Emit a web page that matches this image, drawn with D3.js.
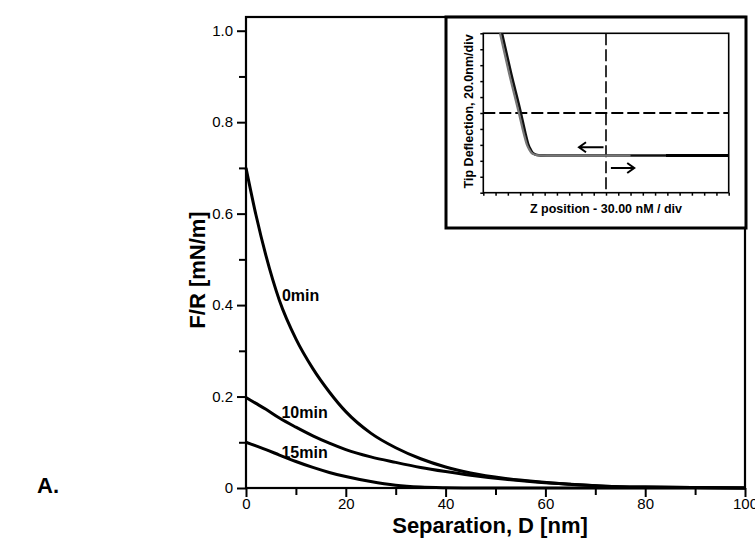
<html lang="en">
<head>
  <script src="https://d3js.org/d3.v7.min.js"></script>
  <style>
    body { margin: 0; background: #fff; }
    text { font-family: "Liberation Sans", Arial, sans-serif; fill: #000; }
    .tick text { font-size: 15px; }
    .curve { fill: none; stroke: #000; stroke-width: 3px; }
    .title { font-weight: bold; font-size: 22px; }
    .lbl { font-weight: bold; font-size: 16px; }
    .inset-title { font-weight: bold; font-size: 12.5px; }
  </style>
</head>
<body>
  <svg width="755" height="548" id="svg-container"></svg>
  <script>
    // ---- DATA ----
    // main panel: force / radius vs separation, three incubation times
    const sepD = [0, 2, 4, 6.7, 10, 13.4, 16.7, 20, 25, 30, 35, 40, 45, 52, 58, 65, 72, 80, 90, 100];
    const fr0min  = [0.70, 0.597, 0.508, 0.41, 0.326, 0.261, 0.210, 0.167, 0.120, 0.088, 0.064, 0.046, 0.033, 0.021, 0.014, 0.008, 0.004, 0.002, 0.001, 0];
    const fr10min = [0.198, 0.185, 0.172, 0.153, 0.133, 0.114, 0.098, 0.084, 0.068, 0.056, 0.045, 0.036, 0.028, 0.019, 0.013, 0.008, 0.004, 0.002, 0.001, 0];
    const fr15min = [0.100, 0.092, 0.084, 0.072, 0.058, 0.045, 0.034, 0.025, 0.014, 0.006, 0.002, 0.0005, 0, 0, 0, 0, 0, 0, 0, 0];
    const seriesNames = ["0min", "10min", "15min"];
    // label anchor (separation, F/R) for each series name
    const labelD = [7.2, 7.1, 7.1];
    const labelF = [0.409, 0.153, 0.066];

    const xTicks = [0, 20, 40, 60, 80, 100];
    const xMinor = [10, 30, 50, 70, 90];
    const yTicks = [0, 0.2, 0.4, 0.6, 0.8, 1.0];
    const yMinor = [0.1, 0.3, 0.5, 0.7, 0.9];
    const yTickLabels = ["0", "0.2", "0.4", "0.6", "0.8", "1.0"];

    // inset: tip deflection (divisions) vs z position (divisions)
    const insetZ        = [1.36, 2.1, 2.9, 3.3, 3.56, 3.75, 3.9, 4.1, 4.35, 4.7, 5.2, 8, 12, 16, 20];
    const insetApproach = [10, 7.5, 5.0, 3.7, 3.0, 2.7, 2.52, 2.42, 2.36, 2.34, 2.33, 2.33, 2.33, 2.33, 2.33];
    const insetZRet     = [1.52, 2.26, 3.06, 3.44, 3.68, 3.86, 4.0, 4.18, 4.4, 4.72, 5.2, 8, 12, 16, 20];
    const insetRetract  = [10, 7.5, 5.0, 3.7, 3.0, 2.7, 2.52, 2.42, 2.36, 2.34, 2.33, 2.33, 2.33, 2.33, 2.33];
    const insetGrayEnd = 14.9;

    let svg = d3.select("svg#svg-container");

    // main plot frame
    let plot = { left: 246, right: 745, top: 17, bottom: 488 };
    const x = d3.scaleLinear().domain([0, 100]).range([plot.left, plot.right]);
    const y = d3.scaleLinear().domain([0, 1.03]).range([plot.bottom, plot.top]);

    // axes
    svg.append("g")
      .attr("transform", "translate(0," + plot.bottom + ")")
      .call(d3.axisBottom(x).tickValues(xMinor).tickSize(7).tickFormat("").tickSizeOuter(0))
      .call(g => g.select(".domain").remove());
    svg.append("g")
      .attr("transform", "translate(0," + plot.bottom + ")")
      .call(d3.axisBottom(x).tickValues(xTicks).tickSize(9).tickPadding(1).tickSizeOuter(0))
      .call(g => g.select(".domain").remove());
    svg.append("g")
      .attr("transform", "translate(" + plot.left + ",0)")
      .call(d3.axisLeft(y).tickValues(yMinor).tickSize(7).tickFormat("").tickSizeOuter(0))
      .call(g => g.select(".domain").remove());
    svg.append("g")
      .attr("transform", "translate(" + plot.left + ",0)")
      .call(d3.axisLeft(y).tickValues(yTicks).tickSize(9).tickPadding(4).tickSizeOuter(0)
        .tickFormat((d, i) => yTickLabels[i]))
      .call(g => g.select(".domain").remove());
    svg.selectAll(".tick line").attr("stroke", "#000").attr("stroke-width", 2);

    // frame
    svg.append("rect")
      .attr("x", plot.left).attr("y", plot.top)
      .attr("width", plot.right - plot.left).attr("height", plot.bottom - plot.top)
      .attr("fill", "none").attr("stroke", "#000").attr("stroke-width", 2.2);

    // curves
    const line = d3.line()
      .x(d => x(d[0])).y(d => y(d[1]))
      .curve(d3.curveMonotoneX);
    [fr0min, fr10min, fr15min].forEach((vals, i) => {
      svg.append("path")
        .datum(sepD.map((d, j) => [d, vals[j]]))
        .attr("class", "curve")
        .attr("d", line);
      svg.append("text")
        .attr("class", "lbl")
        .attr("x", x(labelD[i])).attr("y", y(labelF[i]))
        .text(seriesNames[i]);
    });

    // axis titles
    svg.append("text").attr("class", "title")
      .attr("x", 490).attr("y", 533).attr("text-anchor", "middle")
      .text("Separation, D [nm]");
    svg.append("text").attr("class", "title")
      .attr("transform", "translate(205,270) rotate(-90)")
      .attr("text-anchor", "middle")
      .text("F/R [mN/m]");
    svg.append("text").attr("class", "title")
      .attr("x", 37).attr("y", 493)
      .text("A.");

    // ---- inset ----
    const inset = svg.append("g");
    inset.append("rect")
      .attr("x", 446).attr("y", 17).attr("width", 300).attr("height", 211)
      .attr("fill", "#fff").attr("stroke", "#000").attr("stroke-width", 3);
    let ip = { left: 483.3, right: 728.7, top: 33.3, bottom: 192.7 };
    const ix = d3.scaleLinear().domain([0, 20]).range([ip.left, ip.right]);
    const iy = d3.scaleLinear().domain([0, 10]).range([ip.bottom, ip.top]);

    inset.append("g")
      .attr("transform", "translate(0," + ip.bottom + ")")
      .call(d3.axisBottom(ix).ticks(20).tickSize(3).tickFormat("").tickSizeOuter(0))
      .call(g => g.select(".domain").remove());
    inset.append("g")
      .attr("transform", "translate(" + ip.left + ",0)")
      .call(d3.axisLeft(iy).ticks(10).tickSize(3).tickFormat("").tickSizeOuter(0))
      .call(g => g.select(".domain").remove());
    inset.selectAll(".tick line").attr("stroke", "#000").attr("stroke-width", 1.5);

    inset.append("rect")
      .attr("x", ip.left).attr("y", ip.top)
      .attr("width", ip.right - ip.left).attr("height", ip.bottom - ip.top)
      .attr("fill", "none").attr("stroke", "#000").attr("stroke-width", 1.6);

    // dashed cross hairs
    inset.append("line")
      .attr("x1", ip.left).attr("x2", ip.right).attr("y1", iy(5)).attr("y2", iy(5))
      .attr("stroke", "#000").attr("stroke-width", 2).attr("stroke-dasharray", "12,4");
    inset.append("line")
      .attr("x1", ix(10)).attr("x2", ix(10)).attr("y1", ip.top).attr("y2", ip.bottom)
      .attr("stroke", "#000").attr("stroke-width", 1.6).attr("stroke-dasharray", "12,4");

    const iline = d3.line().x(d => ix(d[0])).y(d => iy(d[1])).curve(d3.curveMonotoneX);
    inset.append("path")
      .datum(insetZRet.map((d, j) => [d, insetRetract[j]]))
      .attr("fill", "none").attr("stroke", "#111").attr("stroke-width", 2.6)
      .attr("d", iline);
    inset.append("path")
      .datum(insetZ.map((d, j) => [d, insetApproach[j]]).filter(d => d[0] <= insetGrayEnd))
      .attr("fill", "none").attr("stroke", "#777").attr("stroke-width", 2.2)
      .attr("d", iline);
    inset.append("line")
      .attr("x1", ix(insetGrayEnd - 0.01)).attr("x2", ix(20)).attr("y1", iy(2.33)).attr("y2", iy(2.33))
      .attr("stroke", "#000").attr("stroke-width", 3);

    // arrows
    function arrow(x1, x2, yy) {
      const dir = x2 > x1 ? -1 : 1;
      inset.append("path")
        .attr("d", "M" + x1 + "," + yy + "L" + x2 + "," + yy +
          "M" + (x2 + dir * 7) + "," + (yy - 5) + "L" + x2 + "," + yy + "L" + (x2 + dir * 7) + "," + (yy + 5))
        .attr("fill", "none").attr("stroke", "#000").attr("stroke-width", 2);
    }
    arrow(ix(9.8), ix(7.8), iy(2.85));
    arrow(ix(10.4), ix(12.3), iy(1.55));

    inset.append("text").attr("class", "inset-title")
      .attr("x", ix(10)).attr("y", 213).attr("text-anchor", "middle")
      .text("Z position - 30.00 nM / div");
    inset.append("text").attr("class", "inset-title")
      .attr("transform", "translate(473," + iy(5.1) + ") rotate(-90)")
      .attr("text-anchor", "middle")
      .text("Tip Deflection, 20.0nm/div");
  </script>
</body>
</html>
